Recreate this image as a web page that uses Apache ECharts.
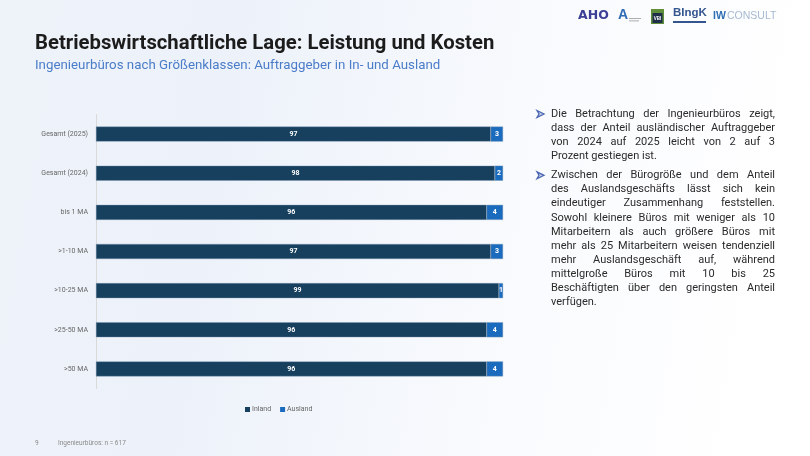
<!DOCTYPE html>
<html>
<head>
<meta charset="utf-8">
<script src="https://cdn.jsdelivr.net/npm/echarts@6/dist/echarts.min.js"></script>
<style>
html,body{margin:0;padding:0;width:810px;height:456px;overflow:hidden;background:#fff;}
#chart{width:810px;height:456px;}
</style>
</head>
<body>
<div id="chart"></div>
<script>
// ---- Data ----
var categories = ['Gesamt (2025)', 'Gesamt (2024)', 'bis 1 MA', '>1-10 MA', '>10-25 MA', '>25-50 MA', '>50 MA'];
var inland = [97, 98, 96, 97, 99, 96, 96];
var ausland = [3, 2, 4, 3, 1, 4, 4];
var seriesNames = ['Inland', 'Ausland'];

var titleText = 'Betriebswirtschaftliche Lage: Leistung und Kosten';
var subtitleText = 'Ingenieurbüros nach Größenklassen: Auftraggeber in In- und Ausland';
var footerPage = '9';
var footerNote = 'Ingenieurbüros: n = 617';

var bullet1 = [
  'Die Betrachtung der Ingenieurbüros zeigt,',
  'dass der Anteil ausländischer Auftraggeber',
  'von 2024 auf 2025 leicht von 2 auf 3',
  'Prozent gestiegen ist.'
];
var bullet2 = [
  'Zwischen der Bürogröße und dem Anteil',
  'des Auslandsgeschäfts lässt sich kein',
  'eindeutiger Zusammenhang feststellen.',
  'Sowohl kleinere Büros mit weniger als 10',
  'Mitarbeitern als auch größere Büros mit',
  'mehr als 25 Mitarbeitern weisen tendenziell',
  'mehr Auslandsgeschäft auf, während',
  'mittelgroße Büros mit 10 bis 25',
  'Beschäftigten über den geringsten Anteil',
  'verfügen.'
];

// ---- Justified text helper ----
var bodyFontSize = 11;
var bodyFontFamily = 'Roboto';
var cv = document.createElement('canvas').getContext('2d');
cv.font = bodyFontSize + 'px "' + bodyFontFamily + '"';

function justify(lines, x, y0, width, lh) {
  var els = [];
  lines.forEach(function (line, i) {
    var y = y0 + i * lh;
    var words = line.split(' ');
    var last = (i === lines.length - 1);
    if (last || words.length < 2) {
      els.push({type: 'text', x: x, y: y, style: {text: line, fill: '#2b2b2b', fontSize: bodyFontSize, fontFamily: bodyFontFamily, verticalAlign: 'middle'}});
      return;
    }
    var widths = words.map(function (w) { return cv.measureText(w).width; });
    var sum = widths.reduce(function (a, b) { return a + b; }, 0);
    var gap = (width - sum) / (words.length - 1);
    var cx = x;
    words.forEach(function (w, k) {
      els.push({type: 'text', x: cx, y: y, style: {text: w, fill: '#2b2b2b', fontSize: bodyFontSize, fontFamily: bodyFontFamily, verticalAlign: 'middle'}});
      cx += widths[k] + gap;
    });
  });
  return els;
}

function bulletIcon(x, y) {
  return {type: 'polygon', shape: {points: [[x, y - 3.5], [x + 7, y], [x, y + 3.5], [x + 2, y]]},
    style: {fill: '#c5d0ea', stroke: '#4a66b0', lineWidth: 1.3}};
}

var graphics = [];
// logos (approximation)
graphics.push({type: 'text', x: 578, y: 16, style: {text: 'AHO', fill: '#3b3f96', fontSize: 12.5, fontWeight: 'bold', fontFamily: 'DejaVu Sans', verticalAlign: 'middle'}});
graphics.push({type: 'text', x: 618, y: 15, style: {text: 'A', fill: '#2f6db5', fontSize: 14, fontWeight: 'bold', fontFamily: 'Liberation Sans', verticalAlign: 'middle'}});
graphics.push({type: 'rect', shape: {x: 629, y: 18, width: 12, height: 0.8}, style: {fill: '#999'}});
graphics.push({type: 'rect', shape: {x: 629, y: 20.5, width: 10, height: 0.8}, style: {fill: '#999'}});
graphics.push({type: 'rect', shape: {x: 651, y: 9, width: 13, height: 15}, style: {fill: '#5f8f3a'}});
graphics.push({type: 'rect', shape: {x: 652.5, y: 13, width: 10, height: 10}, style: {fill: '#1f2f4a'}});
graphics.push({type: 'text', x: 657.5, y: 19, style: {text: 'VBI', fill: '#fff', fontSize: 4.5, fontWeight: 'bold', align: 'center', verticalAlign: 'middle'}});
graphics.push({type: 'text', x: 673, y: 13, style: {text: 'BIngK', fill: '#34558f', fontSize: 11.5, fontWeight: 'bold', fontFamily: 'Liberation Sans', verticalAlign: 'middle'}});
graphics.push({type: 'rect', shape: {x: 673, y: 21, width: 33, height: 2}, style: {fill: '#34558f'}});
graphics.push({type: 'text', x: 713, y: 16, style: {text: 'IW', fill: '#2f6db5', fontSize: 10.5, fontWeight: 'bold', fontFamily: 'Liberation Sans', verticalAlign: 'middle'}});
graphics.push({type: 'text', x: 727, y: 16, style: {text: 'CONSULT', fill: '#a6b8d0', fontSize: 10.5, fontFamily: 'Liberation Sans', verticalAlign: 'middle'}});
// title & subtitle
graphics.push({type: 'text', x: 35, y: 44, style: {text: titleText, fill: '#1c1c1c', fontSize: 20.3, fontWeight: 'bold', fontFamily: 'Roboto', verticalAlign: 'middle'}});
graphics.push({type: 'text', x: 35, y: 66, style: {text: subtitleText, fill: '#4a7cc8', fontSize: 13.3, fontFamily: 'Roboto', verticalAlign: 'middle'}});
// footer
graphics.push({type: 'text', x: 35, y: 443, style: {text: footerPage, fill: '#8a8a8a', fontSize: 6.5, fontFamily: 'Roboto', verticalAlign: 'middle'}});
graphics.push({type: 'text', x: 58, y: 443, style: {text: footerNote, fill: '#8a8a8a', fontSize: 6.5, fontFamily: 'Roboto', verticalAlign: 'middle'}});
// right text
graphics.push(bulletIcon(537, 114));
graphics.push(bulletIcon(537, 175.3));
graphics = graphics.concat(justify(bullet1, 551, 114, 224, 14.1));
graphics = graphics.concat(justify(bullet2, 551, 175.3, 224, 14.15));

var chart = echarts.init(document.getElementById('chart'), null, {renderer: 'canvas'});
chart.setOption({
  backgroundColor: {
    type: 'linear', x: 0, y: 0, x2: 1, y2: 0.3,
    colorStops: [
      {offset: 0, color: '#eef2f9'},
      {offset: 0.3, color: '#edf2fa'},
      {offset: 0.65, color: '#f8fafd'},
      {offset: 1, color: '#ffffff'}
    ]
  },
  animation: false,
  textStyle: {fontFamily: 'Roboto'},
  graphic: graphics,
  legend: {
    data: seriesNames,
    left: 240, top: 401,
    itemWidth: 5, itemHeight: 5, itemGap: 9,
    icon: 'rect',
    itemStyle: {borderWidth: 0},
    textStyle: {fontSize: 7, color: '#666', padding: [0, 0, 0, -3]}
  },
  grid: {left: 96, top: 114.5, width: 407, height: 274, containLabel: false},
  xAxis: {type: 'value', min: 0, max: 100, show: false},
  yAxis: {
    type: 'category', data: categories, inverse: true,
    axisLine: {show: true, lineStyle: {color: '#d9d9d9', width: 1}},
    axisTick: {show: false},
    axisLabel: {fontSize: 7, color: '#666', margin: 8}
  },
  series: [
    {name: seriesNames[0], type: 'bar', stack: 'a', data: inland, barWidth: 15,
      itemStyle: {color: '#17405f', borderColor: '#7f97b3', borderWidth: 0.4},
      label: {show: true, position: 'inside', color: '#fff', fontSize: 7, fontWeight: 'bold'}},
    {name: seriesNames[1], type: 'bar', stack: 'a', data: ausland, barWidth: 15,
      itemStyle: {color: '#1a6bbd', borderColor: '#7f97b3', borderWidth: 0.4},
      label: {show: true, position: 'inside', color: '#fff', fontSize: 7, fontWeight: 'bold'}}
  ]
});
</script>
</body>
</html>
